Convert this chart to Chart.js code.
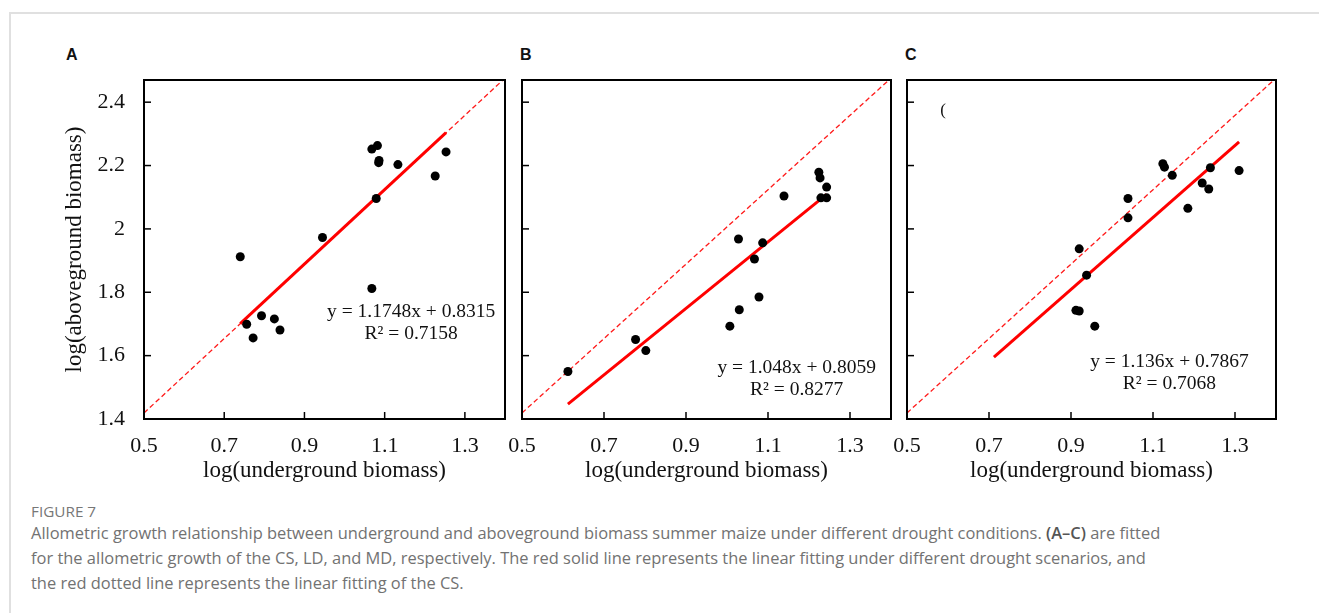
<!DOCTYPE html>
<html>
<head>
<meta charset="utf-8">
<script src="https://cdn.jsdelivr.net/npm/chart.js@4.4.1/dist/chart.umd.min.js"></script>
<style>
  body { margin: 0; background: #fff; width: 1319px; height: 613px; overflow: hidden; position: relative; }
  .frame { position: absolute; left: 9px; top: 12px; right: -2px; bottom: -2px; border-top: 2px solid #e0e0e0; border-left: 2px solid #e0e0e0; }
  .panel { position: absolute; }
  .tag { position: absolute; font: bold 16px "Liberation Sans", Arial, sans-serif; color: #111; }
  .fig { position: absolute; left: 31px; top: 501px; font: 15.3px "Open Sans", sans-serif; color: #777; }
  .cap { position: absolute; left: 31px; top: 520px; font: 16.45px/25px "Open Sans", sans-serif; color: #727272; white-space: nowrap; }
  .cap b { color: #555; font-weight: 600; }
</style>
</head>
<body>
<div class="frame"></div>
<div class="tag" style="left:66px;top:46px">A</div>
<div class="tag" style="left:520px;top:46px">B</div>
<div class="tag" style="left:905px;top:46px">C</div>
<canvas id="chartA" class="panel" width="480" height="430" style="left:40px;top:60px"></canvas>
<canvas id="chartB" class="panel" width="400" height="430" style="left:505px;top:60px"></canvas>
<canvas id="chartC" class="panel" width="420" height="430" style="left:890px;top:60px"></canvas>
<div class="fig">FIGURE 7</div>
<div class="cap">Allometric growth relationship between underground and aboveground biomass summer maize under different drought conditions. <b>(A–C)</b> are fitted<br>for the allometric growth of the CS, LD, and MD, respectively. The red solid line represents the linear fitting under different drought scenarios, and<br>the red dotted line represents the linear fitting of the CS.</div>

<script>
// axis ticks
var xTicks = [0.5, 0.7, 0.9, 1.1, 1.3];
var yTicks = [1.4, 1.6, 1.8, 2.0, 2.2, 2.4];

// A - CS
var aX = [0.740, 0.756, 0.772, 0.793, 0.825, 0.839, 0.945, 1.068, 1.068, 1.079, 1.082, 1.085, 1.086, 1.133, 1.226, 1.253];
var aY = [1.912, 1.699, 1.656, 1.726, 1.716, 1.681, 1.973, 2.252, 1.812, 2.096, 2.263, 2.209, 2.216, 2.203, 2.167, 2.243];
// B - LD
var bX = [0.612, 0.777, 0.802, 1.007, 1.028, 1.030, 1.067, 1.078, 1.087, 1.139, 1.224, 1.227, 1.229, 1.243, 1.243];
var bY = [1.550, 1.651, 1.616, 1.693, 1.968, 1.745, 1.905, 1.785, 1.956, 2.104, 2.179, 2.161, 2.098, 2.132, 2.098];
// C - MD
var cX = [0.912, 0.920, 0.920, 0.938, 0.958, 1.039, 1.039, 1.124, 1.128, 1.147, 1.185, 1.220, 1.236, 1.240, 1.310];
var cY = [1.743, 1.741, 1.937, 1.854, 1.693, 2.096, 2.035, 2.206, 2.195, 2.169, 2.065, 2.145, 2.126, 2.193, 2.184];

// fitted lines (end points)
var csLineX = [0.5, 1.4];
var csLineY = [1.419, 2.476];
var fitAX = [0.740, 1.253], fitAY = [1.701, 2.304];
var fitBX = [0.612, 1.243], fitBY = [1.447, 2.109];
var fitCX = [0.712, 1.310], fitCY = [1.595, 2.275];

var eqA = ['y = 1.1748x + 0.8315', 'R² = 0.7158'];
var eqB = ['y = 1.048x + 0.8059', 'R² = 0.8277'];
var eqC = ['y = 1.136x + 0.7867', 'R² = 0.7068'];

var serif = '"Liberation Serif", "Times New Roman", serif';

function pts(xs, ys) {
  return xs.map(function(v, i) { return {x: v, y: ys[i]}; });
}

// inward tick marks, frame, equation text
var boxPlugin = {
  id: 'box',
  afterDraw: function(chart) {
    var ctx = chart.ctx, a = chart.chartArea;
    var x = chart.scales.x, y = chart.scales.y;
    var o = chart.options.plugins.box;
    ctx.save();
    ctx.strokeStyle = '#000';
    ctx.lineWidth = 1.5;
    x.ticks.forEach(function(t) {
      var px = x.getPixelForValue(t.value);
      ctx.beginPath(); ctx.moveTo(px, a.bottom); ctx.lineTo(px, a.bottom - 7); ctx.stroke();
    });
    y.ticks.forEach(function(t) {
      var py = y.getPixelForValue(t.value);
      ctx.beginPath(); ctx.moveTo(a.left, py); ctx.lineTo(a.left + 7, py); ctx.stroke();
    });
    ctx.lineWidth = 2;
    ctx.strokeRect(a.left, a.top, a.right - a.left, a.bottom - a.top);

    ctx.fillStyle = '#111';
    ctx.font = '19.5px ' + serif;
    ctx.textAlign = 'center';
    ctx.textBaseline = 'middle';
    var ex = x.getPixelForValue(o.eqAt[0]), ey = y.getPixelForValue(o.eqAt[1]);
    o.eq.forEach(function(line, i) { ctx.fillText(line, ex, ey + i * 22); });
    if (o.mark) {
      ctx.font = '17px ' + serif;
      ctx.fillText(o.mark.text, x.getPixelForValue(o.mark.at[0]), y.getPixelForValue(o.mark.at[1]));
    }
    ctx.restore();
  }
};

function noPad(s) {
  s.paddingTop = 0; s.paddingBottom = 0; s.paddingLeft = 0; s.paddingRight = 0;
}

function makePanel(id, xs, ys, fitX, fitY, eq, eqAt, showY, pad, mark) {
  var ctx = document.getElementById(id).getContext('2d');
  return new Chart(ctx, {
    type: 'scatter',
    data: {
      datasets: [{
        data: pts(xs, ys),
        backgroundColor: '#000',
        borderWidth: 0,
        pointRadius: 4.5,
        order: 0
      }, {
        data: pts(fitX, fitY),
        showLine: true,
        borderColor: '#ff0000',
        borderWidth: 3,
        pointRadius: 0,
        order: 1
      }, {
        data: pts(csLineX, csLineY),
        showLine: true,
        borderColor: '#ff1a1a',
        borderWidth: 1.3,
        borderDash: [5, 3],
        pointRadius: 0,
        order: 2
      }]
    },
    options: {
      responsive: false,
      animation: false,
      layout: { padding: pad, autoPadding: false },
      plugins: {
        legend: { display: false },
        tooltip: { enabled: false },
        box: { eq: eq, eqAt: eqAt, mark: mark }
      },
      scales: {
        x: {
          type: 'linear', min: 0.5, max: 1.4,
          grid: { display: false, drawTicks: false },
          border: { display: false },
          afterBuildTicks: function(s) { s.ticks = xTicks.map(function(v) { return {value: v}; }); },
          afterFit: function(s) { s.height = 71; noPad(s); },
          ticks: { padding: 16, color: '#111', font: { family: serif, size: 22, lineHeight: 1 },
                   callback: function(v) { return String(v); } },
          title: { display: true, text: 'log(underground biomass)', color: '#111',
                   font: { family: serif, size: 23, lineHeight: 1 }, padding: { top: 0, bottom: 8 } }
        },
        y: {
          type: 'linear', min: 1.4, max: 2.47,
          grid: { display: false, drawTicks: false },
          border: { display: false },
          afterBuildTicks: function(s) { s.ticks = yTicks.map(function(v) { return {value: v}; }); },
          afterFit: function(s) { s.width = showY ? 81 : 7; noPad(s); },
          ticks: { display: showY, padding: 19, color: '#111', font: { family: serif, size: 22, lineHeight: 1 },
                   callback: function(v) { return String(v); } },
          title: { display: showY, text: 'log(aboveground biomass)', color: '#111',
                   font: { family: serif, size: 23, lineHeight: 1 }, padding: { top: 0, bottom: 0 } }
        }
      }
    },
    plugins: [boxPlugin]
  });
}

makePanel('chartA', aX, aY, fitAX, fitAY, eqA, [1.166, 1.738], true, {left: 23, top: 20, right: 15, bottom: 0});
makePanel('chartB', bX, bY, fitBX, fitBY, eqB, [1.170, 1.562], false, {left: 10, top: 20, right: 14, bottom: 0});
makePanel('chartC', cX, cY, fitCX, fitCY, eqC, [1.140, 1.581], false, {left: 10, top: 20, right: 34, bottom: 0},
          {text: '(', at: [0.588, 2.374]});
</script>
</body>
</html>
